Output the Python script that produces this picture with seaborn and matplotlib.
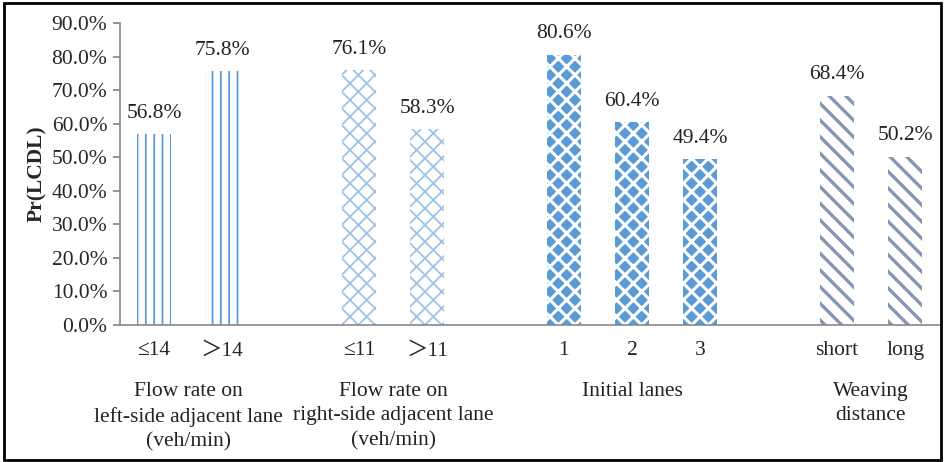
import matplotlib
matplotlib.use("Agg")
import matplotlib.pyplot as plt
import matplotlib.patches as mpatches
import seaborn as sns
import pandas as pd

sns.set_theme(style="white")
plt.rcParams["font.family"] = ["Liberation Serif", "Noto Sans CJK SC", "DejaVu Serif"]
plt.rcParams["hatch.linewidth"] = 2.2

# slots on the x axis, blanks keep the gaps between groups
slots = ["≤14", ">14", "_a", "≤11", ">11", "_b", "1", "2", "3", "_c", "short", "long"]
tick_text = ["≤14", "＞14", "", "≤11", "＞11", "", "1", "2", "3", "", "short", "long"]
categories = ["≤14", ">14", "≤11", ">11", "1", "2", "3", "short", "long"]
values = [56.8, 75.8, 76.1, 58.3, 80.6, 60.4, 49.4, 68.4, 50.2]
group_of = ["left", "left", "right", "right", "init", "init", "init", "weave", "weave"]
group_names = ["Flow rate on\nleft-side adjacent lane\n(veh/min)",
               "Flow rate on\nright-side adjacent lane\n(veh/min)",
               "Initial lanes",
               "Weaving\ndistance"]
group_centers = [0.5, 3.5, 7.0, 10.5]

df = pd.DataFrame({"cat": categories, "val": values, "grp": group_of})

FS = 15.5

fig = plt.figure(figsize=(9.44, 4.62), dpi=100)
ax = fig.add_axes([0.127, 0.297, 0.868, 0.653])

sns.barplot(df, x="cat", y="val", order=slots, width=0.5, ax=ax,
            color="white", errorbar=None)

styles = {
    "left": dict(facecolor="white", edgecolor="#5B9BD5", hatch="||", lw=1.3),
    "right": dict(facecolor="white", edgecolor="#9DC3E6", hatch="xx", lw=1.3),
    "init": dict(facecolor="#5B9BD5", edgecolor="white", hatch="xx", lw=2.2),
    "weave": dict(facecolor="white", edgecolor="#8497B0", hatch="\\\\", lw=2.4),
}
for bar, g, v in zip(ax.patches, group_of, values):
    st = styles[g]
    bar.set_facecolor(st["facecolor"])
    bar.set_edgecolor(st["edgecolor"])
    bar.set_hatch(st["hatch"])
    if hasattr(bar, "set_hatch_linewidth"):
        bar.set_hatch_linewidth(st["lw"])
    bar.set_linewidth(0)
    ax.annotate(f"{v:.1f}%", (bar.get_x() + bar.get_width() / 2, v),
                xytext=(0, 8), textcoords="offset points",
                ha="center", va="bottom", fontsize=FS, color="#222222")

ax.set_ylim(0, 90)
ax.set_xlim(-0.5, 11.5)
ax.set_yticks(range(0, 91, 10))
ax.set_yticklabels([f"{t:.1f}%" for t in range(0, 91, 10)], fontsize=FS)
ax.set_xticks(range(len(slots)))
ax.set_xticklabels(tick_text, fontsize=FS)
ax.set_xticks([i + 0.5 for i in range(-1, 12)], minor=True)
ax.tick_params(axis="x", which="major", length=0, pad=12)
ax.tick_params(axis="x", which="minor", length=5, color="#888888", direction="out")
ax.tick_params(axis="y", length=5, color="#888888", direction="out", left=True, pad=4)
ax.set_xlabel("")
ax.set_ylabel("Pr(LCDL)", fontsize=FS, fontweight="bold", labelpad=3)

for side in ["top", "right"]:
    ax.spines[side].set_visible(False)
for side in ["left", "bottom"]:
    ax.spines[side].set_color("#888888")
    ax.spines[side].set_linewidth(1.2)

for name, c in zip(group_names, group_centers):
    ax.text(c, -17, name, ha="center", va="top", fontsize=FS,
            color="#222222", linespacing=1.4, transform=ax.transData)

fig.patches.append(mpatches.Rectangle((0.004, 0.004), 0.993, 0.99, fill=False,
                                      edgecolor="black", linewidth=2,
                                      transform=fig.transFigure, figure=fig))

fig.savefig("out.png", dpi=100)
